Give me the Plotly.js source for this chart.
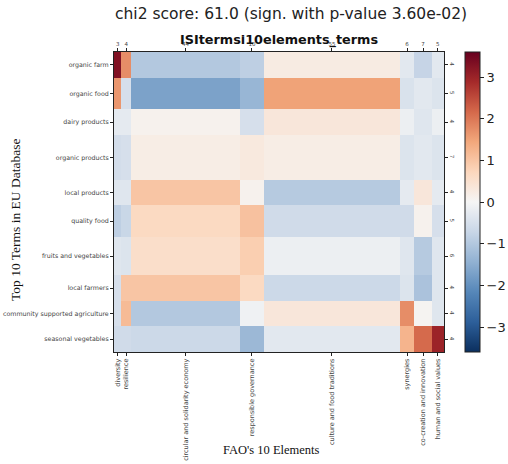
<!DOCTYPE html>
<html><head><meta charset="utf-8">
<script src="https://cdn.plot.ly/plotly-3.0.1.min.js"></script>
<style>html,body{margin:0;padding:0;background:#fff}#chart{width:508px;height:464px}</style>
</head><body><div id="chart"></div>
<script>
const terms = ['organic farm','organic food','dairy products','organic products','local products','quality food','fruits and vegetables','local farmers','community supported agriculture','seasonal vegetables'];
const termCounts = [4,5,4,7,4,5,6,4,4,4];
const elements = ['diversity','resilience','circular and solidarity economy','responsible governance','culture and food traditions','synergies','co-creation and innovation','human and social values'];
const elementCounts = [3,4,44,10,55,6,7,5];
// standardized residuals, rows = terms, columns = elements
const residuals = [
  [ 3.3,  1.75, -1.0, -0.85, 0.25, -0.3, -0.75, -0.3],
  [ 1.65, -0.5, -1.7, -1.35, 1.5, -0.45, -0.3, -0.4],
  [-0.25,-0.25, 0.1, -0.5, 0.35, -0.15, -0.35, -0.15],
  [-0.55,-0.5, 0.2, 0.3, 0.2, -0.4, -0.3, -0.4],
  [-0.35,-0.35, 1.0, 0.1, -0.95, -0.25, 0.35, -0.25],
  [-0.85,-0.7, 0.65, 1.05, -0.6, -0.6, 0.1, -0.5],
  [-0.35,-0.4, 0.55, 0.85, -0.15, -0.35, -0.95, -0.35],
  [-0.5, 1.0, 1.0, 0.65, -0.65, -0.4, -1.1, -0.35],
  [-0.5, 1.15, -1.0, -0.1, 0.35, 1.75, 0.05, -0.35],
  [-0.6,-0.6, -0.65, -1.3, -0.3, 1.25, 2.15, 3.0]
];

function edges(counts){const e=[0];counts.forEach(c=>e.push(e[e.length-1]+c));return e;}
function centers(counts){const e=edges(counts);return counts.map((c,i)=>e[i]+c/2);}
const xEdges = edges(elementCounts), yEdges = edges(termCounts);
const xC = centers(elementCounts), yC = centers(termCounts);
const xMax = xEdges[xEdges.length-1], yMax = yEdges[yEdges.length-1];

const mutedRdBu_r = [[0,'#0b2f5e'],[0.1,'#2d5f9a'],[0.2,'#5687b9'],[0.3,'#91b1d2'],[0.4,'#c8d6e7'],[0.5,'#f5f5f5'],[0.6,'#fcd7bd'],[0.7,'#f2a87c'],[0.8,'#d5694b'],[0.9,'#a52a2a'],[1,'#67001f']];

const tickFont = {family:'DejaVu Sans', size:6.3, color:'#444'};
const data = [
  {type:'heatmap', x:xEdges, y:yEdges, z:residuals, colorscale:mutedRdBu_r, zmin:-3.6, zmax:3.6, hoverinfo:'z',
   colorbar:{x:1.064, xanchor:'left', y:0.5, yanchor:'middle', thickness:15, thicknessmode:'pixels', len:300, lenmode:'pixels',
     outlinewidth:1, outlinecolor:'#222', ticks:'outside', ticklen:4, tickcolor:'#222', tickvals:[-3,-2,-1,0,1,2,3],
     tickfont:{family:'DejaVu Sans', size:13, color:'#222'}, xpad:0, ypad:0}},
  {type:'scatter', x:[0], y:[0], xaxis:'x2', yaxis:'y2', mode:'markers', marker:{opacity:0}, hoverinfo:'skip', showlegend:false}
];
const axBase = {showgrid:false, zeroline:false, ticks:'outside', ticklen:3, tickcolor:'#222', showline:true, linecolor:'#222', linewidth:1, fixedrange:true, tickfont:tickFont, automargin:false};
const layout = {
  width:508, height:464, margin:{l:114, r:64, t:52, b:112, autoexpand:false}, paper_bgcolor:'#fff', plot_bgcolor:'#fff', showlegend:false,
  xaxis:Object.assign({}, axBase, {range:[0,xMax], tickvals:xC, ticktext:elements, tickangle:-90, tickfont:{family:'DejaVu Sans', size:6.5, color:'#444'}}),
  xaxis2:Object.assign({}, axBase, {overlaying:'x', side:'top', range:[0,xMax], tickvals:xC, ticktext:elementCounts.map(String), tickfont:{family:'DejaVu Sans', size:5.5, color:'#444'}}),
  yaxis:Object.assign({}, axBase, {range:[yMax,0], tickvals:yC, ticktext:terms}),
  yaxis2:Object.assign({}, axBase, {overlaying:'y', side:'right', range:[yMax,0], tickvals:yC, ticktext:termCounts.map(String), tickangle:90, tickfont:{family:'DejaVu Sans', size:5.5, color:'#444'}}),
  annotations:[
    {text:'chi2 score: 61.0 (sign. with p-value 3.60e-02)', xref:'paper', yref:'paper', x:0.535, y:1.127, showarrow:false, xanchor:'center', yanchor:'middle', font:{family:'DejaVu Sans', size:15.5, color:'#222'}},
    {text:'<b>ISItermsi10elements_terms</b>', xref:'paper', yref:'paper', x:0.5, y:1.04, showarrow:false, xanchor:'center', yanchor:'middle', font:{family:'DejaVu Sans', size:12.8, color:'#111'}},
    {text:"FAO's 10 Elements", xref:'paper', yref:'paper', x:0.476, y:-0.327, showarrow:false, xanchor:'center', yanchor:'middle', font:{family:'Liberation Serif', size:12.5, color:'#111'}},
    {text:'Top 10 Terms in EU Database', xref:'paper', yref:'paper', x:-0.3, y:0.44, showarrow:false, xanchor:'center', yanchor:'middle', textangle:-90, font:{family:'Liberation Serif', size:13.5, color:'#111'}}
  ]
};
Plotly.newPlot('chart', data, layout, {displayModeBar:false, staticPlot:true});
</script></body></html>
